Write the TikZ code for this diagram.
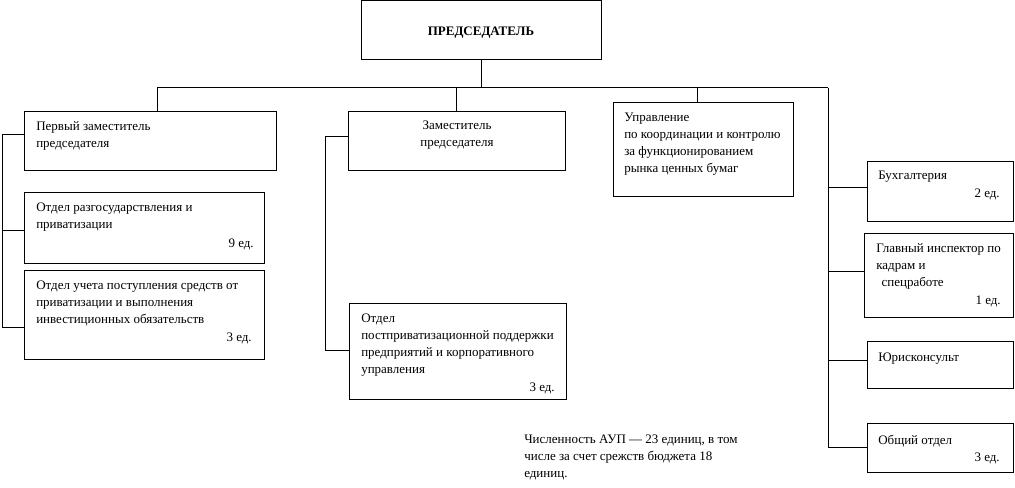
\documentclass[tikz,border=0pt]{standalone}
\usepackage{fontspec}
\setmainfont{Liberation Serif}
\usetikzlibrary{fit}
\newcommand\fsz{\fontsize{9.75}{12.75}\selectfont}
\newcommand\ml[1]{\begin{tabular}[t]{@{}l@{}}#1\end{tabular}}
\newcommand\mc[1]{\begin{tabular}[t]{@{}c@{}}#1\end{tabular}}
\tikzset{
  box/.style={draw, line width=0.75pt, inner sep=0pt},
  txt/.style={anchor=base west, inner sep=0pt, font=\fsz},
  cnt/.style={anchor=base east, inner sep=0pt, font=\fsz},
  link/.style={line width=0.75pt},
}
\begin{document}
\begin{tikzpicture}[x=0.75pt, y=-0.75pt]
\useasboundingbox (0,0) rectangle (1015,488);
% boxes
\node[box, fit={(361,0.5)(601,60)}] (chair) {};
\node[box, fit={(24,112)(276,171)}] (d1) {};
\node[box, fit={(24,193)(264,264)}] (d2) {};
\node[box, fit={(24,271)(264,360)}] (d3) {};
\node[box, fit={(348,112)(565,171)}] (zam) {};
\node[box, fit={(349,304)(566,400)}] (post) {};
\node[box, fit={(613,103)(793,197)}] (upr) {};
\node[box, fit={(867,162)(1013,222)}] (buh) {};
\node[box, fit={(864,234)(1013,318)}] (insp) {};
\node[box, fit={(867,342)(1013,389)}] (jur) {};
\node[box, fit={(867,424)(1013,473)}] (gen) {};
% texts
\node[anchor=base, inner sep=0pt, font=\fsz\bfseries] (chairT) at (481,36) {ПРЕДСЕДАТЕЛЬ};
\node[txt] (d1T) at (36,131) {\ml{Первый заместитель\\председателя}};
\node[txt] (d2T) at (36,212) {\ml{Отдел разгосударствления и\\приватизации}};
\node[cnt] (d2C) at (254,248) {9 ед.};
\node[txt] (d3T) at (36,290) {\ml{Отдел учета поступления средств от\\приватизации и выполнения\\инвестиционных обязательств}};
\node[cnt] (d3C) at (252,342) {3 ед.};
\node[anchor=base, inner sep=0pt, font=\fsz] (zamT) at (457,130) {\mc{Заместитель\\председателя}};
\node[txt] (postT) at (361,323) {\ml{Отдел\\постприватизационной поддержки\\предприятий и корпоративного\\управления}};
\node[cnt] (postC) at (555,392) {3 ед.};
\node[txt] (uprT) at (624,122) {\ml{Управление\\по координации и контролю\\за функционированием\\рынка ценных бумаг}};
\node[txt] (buhT) at (878,180) {Бухгалтерия};
\node[cnt] (buhC) at (1000,198) {2 ед.};
\node[txt] (inspT) at (876,253) {\ml{Главный инспектор по\\кадрам и\\\hspace{4pt}спецработе}};
\node[cnt] (inspC) at (1001,305) {1 ед.};
\node[txt] (jurT) at (878,362) {Юрисконсульт};
\node[txt] (genT) at (878,445) {Общий отдел};
\node[cnt] (genC) at (1000,462) {3 ед.};
\node[txt] (note) at (524,444) {\ml{Численность АУП — 23 единиц, в том\\числе за счет срежств бюджета 18\\единиц.}};
% connectors
\coordinate (bus) at (481,88);
\coordinate (b1) at (157,88);
\coordinate (b3) at (697,88);
\coordinate (bR) at (828,88);
\draw[link] (chair.south) -- (bus);
\draw[link] (b1) -- (bR);
\draw[link] (b1) -- (b1 |- d1.north);
\draw[link] (bus -| zam.north) -- (zam.north);
\draw[link] (b3) -- (b3 |- upr.north);
% left bracket
\coordinate (l1) at (2,135);
\coordinate (l2) at (2,231);
\coordinate (l3) at (2,328);
\draw[link] (l1 -| d1.west) -- (l1) -- (l3) -- (l3 -| d3.west);
\draw[link] (l2) -- (l2 -| d2.west);
% middle bracket
\coordinate (m1) at (325,137);
\coordinate (m2) at (325,351);
\draw[link] (m1 -| zam.west) -- (m1) -- (m2) -- (m2 -| post.west);
% right bracket
\coordinate (r1) at (828,188);
\coordinate (r2) at (828,272);
\coordinate (r3) at (828,361);
\coordinate (r4) at (828,448);
\draw[link] (bR) -- (r4) -- (r4 -| gen.west);
\draw[link] (r1) -- (r1 -| buh.west);
\draw[link] (r2) -- (r2 -| insp.west);
\draw[link] (r3) -- (r3 -| jur.west);
\end{tikzpicture}
\end{document}
